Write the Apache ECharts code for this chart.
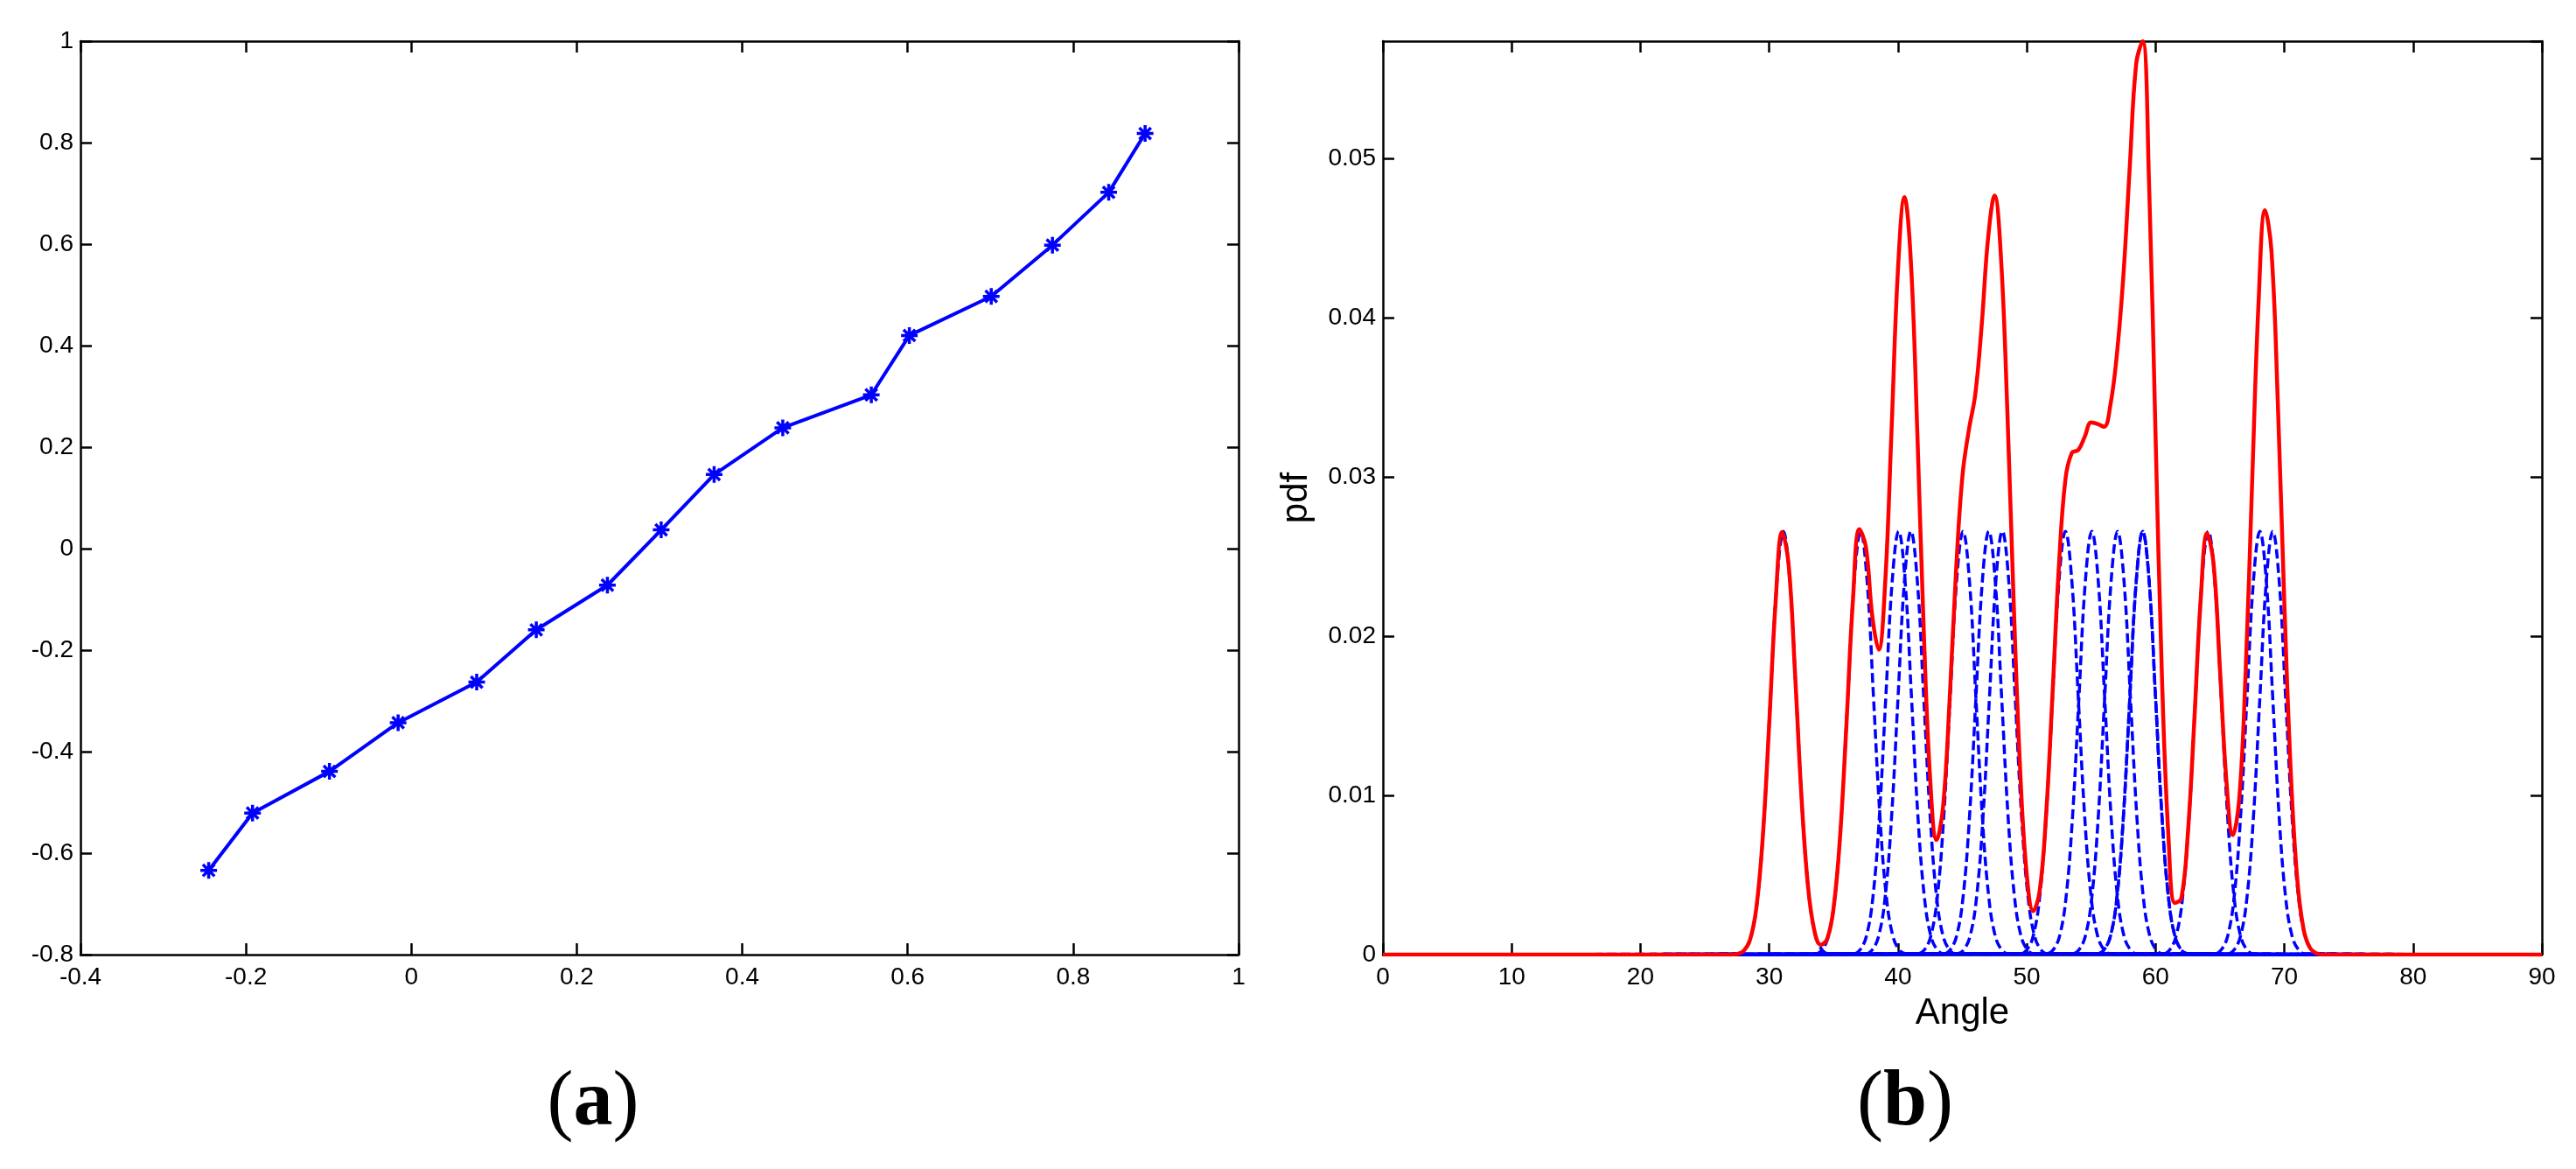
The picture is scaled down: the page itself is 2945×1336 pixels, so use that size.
<!DOCTYPE html>
<html>
<head>
<meta charset="utf-8">
<title>pdf chart</title>
<script src="https://cdn.jsdelivr.net/npm/echarts@6/dist/echarts.min.js"></script>
<style>
html, body { margin: 0; padding: 0; background: #fff; }
#main { width: 2945px; height: 1336px; }
</style>
</head>
<body>
<div id="main"></div>
<script>
// (a) 散点连线
var aX = [-0.245, -0.192, -0.099, -0.016, 0.079, 0.151, 0.237, 0.302, 0.366, 0.449, 0.556, 0.602, 0.701, 0.775, 0.843, 0.887];
var aY = [-0.634, -0.521, -0.439, -0.343, -0.263, -0.160, -0.072, 0.037, 0.146, 0.238, 0.303, 0.420, 0.497, 0.598, 0.702, 0.818];
var aXAxis = [-0.4, 1, 0.2];   // min, max, step
var aYAxis = [-0.8, 1, 0.2];

// (b) 各分量峰（蓝色虚线）
var peakCenters = [31.1, 37.1, 40.05, 41.0, 45.05, 47.05, 48.1, 53.0, 55.05, 57.05, 59.0, 59.0, 64.1, 68.1, 69.1];
var peakOffsets = [-3.5, -3, -2.5, -2, -1.5, -1, -0.5, 0, 0.5, 1, 1.5, 2, 2.5, 3, 3.5];
var peakProfile = [0.00006, 0.0003, 0.00117, 0.0036, 0.00864, 0.01613, 0.02347, 0.0266, 0.02347, 0.01613, 0.00864, 0.0036, 0.00117, 0.0003, 0.00006];

// (b) 总密度（红线）
var redAngle = [0, 27, 27.5, 28, 28.5, 29, 29.5, 30, 30.5, 31, 31.5, 32, 32.5, 33, 33.5, 34, 34.5, 35, 35.5, 36, 36.5,
    37, 37.5, 38, 38.5, 39, 39.5, 40, 40.5, 41, 41.5, 42, 42.5, 43, 43.5, 44, 44.5, 45, 45.5, 46, 46.5,
    47, 47.5, 48, 48.5, 49, 49.5, 50, 50.5, 51, 51.5, 52, 52.5, 53, 53.5, 54, 54.5, 55, 55.5, 56, 56.5,
    57, 57.5, 58, 58.5, 59, 59.5, 60, 60.5, 61, 61.5, 62, 62.5, 63, 63.5, 64, 64.5, 65, 65.5, 66, 66.5,
    67, 67.5, 68, 68.5, 69, 69.5, 70, 70.5, 71, 71.5, 72, 72.5, 73, 90];
var redPdf = [0, 0, 0.00004, 0.00022, 0.00091, 0.00293, 0.0074, 0.01453, 0.02222, 0.02655, 0.02456, 0.01774, 0.00998, 0.00438, 0.00153, 0.00062, 0.00099, 0.00294, 0.0074, 0.01454, 0.02227,
    0.02673, 0.02565, 0.02129, 0.01916, 0.0233, 0.033, 0.0431, 0.0476, 0.04354, 0.03282, 0.02035, 0.01099, 0.0072, 0.0093, 0.01588, 0.024, 0.03004, 0.03296, 0.0352, 0.03957,
    0.04507, 0.04770, 0.04375, 0.03393, 0.02172, 0.01136, 0.00501, 0.00273, 0.004, 0.00877, 0.0164, 0.0245, 0.02986, 0.03153, 0.03171, 0.03254, 0.03344, 0.03334, 0.03317, 0.03457,
    0.03774, 0.04264, 0.04954, 0.0560, 0.0574, 0.0483, 0.0326, 0.01735, 0.00742, 0.00325, 0.00353, 0.00752, 0.01455, 0.02223, 0.02648, 0.0246, 0.01797, 0.01093, 0.00752, 0.0098,
    0.01786, 0.0297, 0.041, 0.04678, 0.04421, 0.03454, 0.02211, 0.01147, 0.00477, 0.00157, 0.00041, 0.00008, 0, 0];
var bXAxis = [0, 90, 10];
var bYAxis = [0, 0.0574, 0.01];

var chart = echarts.init(document.getElementById('main'));

var font = 'Liberation Sans, Arial, sans-serif';
function mkAxis(grid, range, pos, showLabel){
    return {
        type: 'value', gridIndex: grid, position: pos,
        min: range[0], max: range[1], interval: range[2],
        axisLine: {show: true, onZero: false, lineStyle: {color: '#000', width: 2.5}},
        axisTick: {show: true, inside: true, length: 13, lineStyle: {color: '#000', width: 2.5}},
        axisLabel: {show: showLabel, color: '#000', fontFamily: font, fontSize: 28, margin: (pos == 'left' ? 8 : 12)},
        splitLine: {show: false}
    };
}

var xAxes = [mkAxis(0, aXAxis, 'bottom', true), mkAxis(0, aXAxis, 'top', false), mkAxis(1, bXAxis, 'bottom', true), mkAxis(1, bXAxis, 'top', false)];
var yAxes = [mkAxis(0, aYAxis, 'left', true), mkAxis(0, aYAxis, 'right', false), mkAxis(1, bYAxis, 'left', true), mkAxis(1, bYAxis, 'right', false)];
yAxes[2].axisLabel.showMaxLabel = false;
xAxes[2].name = 'Angle';
xAxes[2].nameLocation = 'middle';
xAxes[2].nameGap = 46;
xAxes[2].nameTextStyle = {color: '#000', fontFamily: font, fontSize: 42};
yAxes[2].name = 'pdf';
yAxes[2].nameLocation = 'middle';
yAxes[2].nameGap = 78;
yAxes[2].nameTextStyle = {color: '#000', fontFamily: font, fontSize: 42};

var series = [];
series.push({
    type: 'line', xAxisIndex: 0, yAxisIndex: 0,
    data: aX.map(function(x, i){ return [x, aY[i]]; }),
    lineStyle: {color: '#0000ff', width: 4},
    symbol: 'path://M10 0L10 20M0 10L20 10M3 3L17 17M3 17L17 3',
    symbolSize: 19,
    itemStyle: {color: '#0000ff', borderColor: '#0000ff', borderWidth: 3.5},
    animation: false
});

peakCenters.forEach(function(c, k){
    var d = [[0, 0]];
    peakOffsets.forEach(function(o, i){ d.push([c + o, peakProfile[i]]); });
    d.push([90, 0]);
    series.push({
        type: 'line', xAxisIndex: 2, yAxisIndex: 2, data: d,
        smooth: 0.4, showSymbol: false, symbol: 'none', z: 2,
        lineStyle: {color: '#0000ff', width: 3.5, type: [11, 5], dashOffset: k * 3},
        animation: false
    });
});

series.push({
    type: 'line', xAxisIndex: 2, yAxisIndex: 2,
    data: redAngle.map(function(x, i){ return [x, redPdf[i]]; }),
    smooth: 0.4, showSymbol: false, symbol: 'none', z: 5,
    lineStyle: {color: '#ff0000', width: 4.5},
    animation: false
});

chart.setOption({
    backgroundColor: '#fff',
    animation: false,
    grid: [
        {left: 92, top: 47, width: 1324, height: 1044},
        {left: 1581, top: 47, width: 1325, height: 1044}
    ],
    xAxis: xAxes,
    yAxis: yAxes,
    series: series,
    graphic: [
        {type: 'text', x: 678, y: 1262, style: {text: '{p|(}{b|a}{p|)}', align: 'center', verticalAlign: 'middle', textAlign: 'center', textVerticalAlign: 'middle',
            rich: {p: {fontFamily: 'Liberation Serif', fontSize: 90, fill: '#000'}, b: {fontFamily: 'Liberation Serif', fontSize: 90, fontWeight: 'bold', fill: '#000'}}}},
        {type: 'text', x: 2178, y: 1262, style: {text: '{p|(}{b|b}{p|)}', align: 'center', verticalAlign: 'middle', textAlign: 'center', textVerticalAlign: 'middle',
            rich: {p: {fontFamily: 'Liberation Serif', fontSize: 90, fill: '#000'}, b: {fontFamily: 'Liberation Serif', fontSize: 90, fontWeight: 'bold', fill: '#000'}}}}
    ]
});
</script>
</body>
</html>
